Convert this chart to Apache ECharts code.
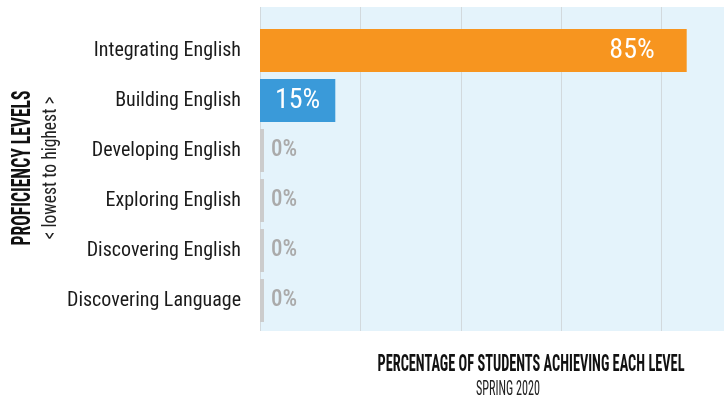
<!DOCTYPE html>
<html>
<head>
<meta charset="utf-8">
<script src="https://cdn.jsdelivr.net/npm/echarts@6/dist/echarts.min.js"></script>
<style>
  html, body { margin: 0; padding: 0; background: #fff; }
  #main { width: 724px; height: 406px; }
</style>
</head>
<body>
<div id="main"></div>
<script>
var categories = ['Integrating English', 'Building English', 'Developing English',
  'Exploring English', 'Discovering English', 'Discovering Language'];
var percents = [85, 15, 0, 0, 0, 0];
var barColors = ['#f7951f', '#3a9ad9', '#cccccc', '#cccccc', '#cccccc', '#cccccc'];
var xTicks = [0, 20, 40, 60, 80, 100];

var FONT = "'Roboto Condensed', 'Liberation Sans Narrow', sans-serif";

// squeeze a text horizontally so it spans the given width
var measureCtx = document.createElement('canvas').getContext('2d');
function fitScale(text, font, width) {
  measureCtx.font = font;
  return width / measureCtx.measureText(text).width;
}

var chart = echarts.init(document.getElementById('main'), null, { renderer: 'canvas' });

function labelFor(v, i) {
  if (v === 0) {
    return { show: true, position: 'right', distance: 7, color: '#aaaaaa', fontSize: 23, fontWeight: 500, fontFamily: FONT };
  }
  if (i === 0) {
    return { show: true, position: 'insideRight', distance: 32, color: '#fff', fontSize: 28, fontFamily: FONT };
  }
  return { show: true, position: 'inside', color: '#fff', fontSize: 28, fontFamily: FONT };
}

var barData = percents.map(function (v, i) {
  return {
    value: v,
    itemStyle: { color: barColors[i] },
    label: labelFor(v, i)
  };
});

var titleFont = 'bold 23px ' + FONT;
var sideFont = 'bold 25px ' + FONT;
var sideSubFont = '20px ' + FONT;
var subFont = '20px ' + FONT;

var option = {
  animation: false,
  grid: [
    // background panel with gridlines
    { left: 260, right: -38, top: 7, bottom: 75, show: true, backgroundColor: '#e4f3fb', borderWidth: 0, outerBoundsMode: 'none' },
    // bars
    { left: 260, right: -38, top: 25.5, bottom: 80.5, outerBoundsMode: 'none' }
  ],
  xAxis: [
    {
      gridIndex: 0, type: 'value', min: xTicks[0], max: xTicks[xTicks.length - 1], interval: 20,
      axisLine: { show: false }, axisTick: { show: false }, axisLabel: { show: false },
      splitLine: { lineStyle: { color: '#d2d9dd', width: 1 } }
    },
    {
      gridIndex: 1, type: 'value', min: xTicks[0], max: xTicks[xTicks.length - 1],
      axisLine: { show: false }, axisTick: { show: false }, axisLabel: { show: false },
      splitLine: { show: false }
    }
  ],
  yAxis: [
    { gridIndex: 0, type: 'category', data: [''], show: false },
    {
      gridIndex: 1, type: 'category', data: categories, inverse: true,
      axisLine: { show: false }, axisTick: { show: false },
      axisLabel: { color: '#1a1a1a', fontSize: 20, fontFamily: FONT, margin: 19 }
    }
  ],
  series: [
    {
      type: 'bar', xAxisIndex: 1, yAxisIndex: 1,
      barWidth: 43, barMinHeight: 4,
      label: { formatter: '{c}%' },
      data: barData
    }
  ],
  graphic: [
    {
      type: 'text', x: 24, y: 168, rotation: Math.PI / 2,
      scaleX: fitScale('PROFICIENCY LEVELS', sideFont, 155),
      style: { text: 'PROFICIENCY LEVELS', fill: '#111', font: sideFont, align: 'center', verticalAlign: 'middle' }
    },
    {
      type: 'text', x: 51, y: 168, rotation: Math.PI / 2,
      scaleX: fitScale('< lowest to highest >', sideSubFont, 143),
      style: { text: '< lowest to highest >', fill: '#222', font: sideSubFont, align: 'center', verticalAlign: 'middle' }
    },
    {
      type: 'text', x: 531, y: 365,
      scaleX: fitScale('PERCENTAGE OF STUDENTS ACHIEVING EACH LEVEL', titleFont, 307),
      style: { text: 'PERCENTAGE OF STUDENTS ACHIEVING EACH LEVEL', fill: '#111', font: titleFont, align: 'center', verticalAlign: 'middle' }
    },
    {
      type: 'text', x: 508, y: 390,
      scaleX: fitScale('SPRING 2020', subFont, 64),
      style: { text: 'SPRING 2020', fill: '#222', font: subFont, align: 'center', verticalAlign: 'middle' }
    }
  ]
};

chart.setOption(option);
</script>
</body>
</html>
